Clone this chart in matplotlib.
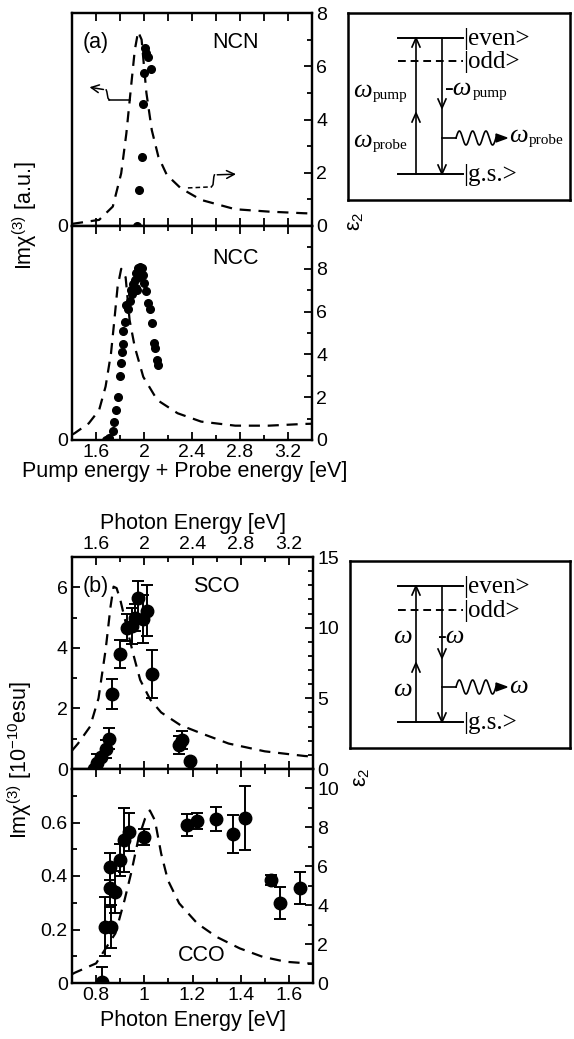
import numpy as np
import matplotlib
matplotlib.use('Agg')
import matplotlib.pyplot as plt
from matplotlib.ticker import MultipleLocator, FixedLocator, FuncFormatter, NullFormatter

plt.rcParams['font.family'] = ['Liberation Sans', 'DejaVu Sans']
plt.rcParams['mathtext.fontset'] = 'custom'
plt.rcParams['mathtext.rm'] = 'Liberation Sans'
plt.rcParams['mathtext.it'] = 'Liberation Sans:italic'
plt.rcParams['mathtext.bf'] = 'Liberation Sans:bold'

# ---------------- data ----------------
# (a) NCN : eps2 (dashed) and Im chi(3) points
ncn_e2_x = [1.40, 1.626, 1.74, 1.81, 1.853, 1.895, 1.923, 1.951, 1.98, 2.02, 2.065,
            2.12, 2.19, 2.306, 2.476, 2.76, 3.04, 3.33, 3.40]
ncn_e2_y = [0.08, 0.23, 0.73, 1.98, 3.48, 5.36, 6.6, 7.3, 7.0, 5.0, 3.6,
            2.6, 1.92, 1.42, 0.98, 0.63, 0.54, 0.48, 0.47]
ncn_x = [1.94, 1.957, 1.983, 1.99, 2.00, 2.06, 2.03, 2.01, 2.02]
ncn_y = [0.0, 1.35, 2.6, 4.6, 5.75, 5.9, 6.35, 6.7, 6.5]

# (a) NCC
ncc_e2_x = [1.40, 1.42, 1.54, 1.626, 1.68, 1.725, 1.753, 1.78, 1.81, 1.847, 1.88, 1.923,
            1.994, 2.11, 2.28, 2.476, 2.76, 3.04, 3.33, 3.40]
ncc_e2_y = [0.25, 0.31, 0.78, 1.4, 2.5, 4.05, 5.6, 7.16, 8.0, 7.6, 5.6, 4.35,
            2.95, 1.87, 1.25, 0.86, 0.67, 0.67, 0.75, 0.76]
ncc_x = [1.68, 1.71, 1.74, 1.753, 1.767, 1.78, 1.796, 1.81, 1.815, 1.824, 1.824, 1.84,
         1.853, 1.88, 1.895, 1.91, 1.923, 1.936, 1.95, 1.965, 1.98, 1.99, 2.0, 2.02,
         2.036, 2.05, 2.065, 2.08, 2.09, 2.11, 2.12, 1.90, 1.93, 1.96, 1.87, 1.94]
ncc_y = [0.0, 0.1, 0.4, 0.86, 1.4, 2.0, 3.0, 3.6, 4.1, 4.5, 5.1, 5.5,
         6.3, 6.5, 7.0, 7.3, 7.5, 7.8, 8.05, 8.1, 8.05, 7.7, 7.35, 6.98,
         6.4, 6.1, 5.47, 4.54, 4.3, 3.75, 3.5, 6.8, 7.1, 7.6, 6.1, 7.0]

# (b) SCO
sco_e2_x = [1.40, 1.45, 1.55, 1.62, 1.68, 1.72, 1.745, 1.77, 1.80, 1.85, 1.906, 1.966,
            2.05, 2.14, 2.30, 2.48, 2.70, 3.00, 3.33, 3.40]
sco_e2_y = [1.3, 1.8, 3.0, 5.0, 8.5, 11.5, 12.9, 12.8, 12.0, 10.2, 8.2, 6.3,
            4.9, 4.0, 3.1, 2.5, 1.8, 1.25, 0.92, 0.88]
sco_x = [1.58, 1.61, 1.64, 1.68, 1.71, 1.73, 1.80, 1.86, 1.895, 1.92, 1.95, 1.99, 2.02, 2.065,
         2.29, 2.31, 2.38]
sco_y = [0.0, 0.2, 0.4, 0.65, 1.0, 2.48, 3.8, 4.67, 4.72, 5.0, 5.65, 4.95, 5.23, 3.14,
         0.78, 0.95, 0.28]
sco_err = [0.0, 0.3, 0.0, 0.3, 0.35, 0.5, 0.45, 0.45, 0.6, 0.45, 0.55, 0.8, 0.85, 0.8,
           0.3, 0.3, 0.0]

# (b) CCO
cco_e2_x = [0.70, 0.712, 0.80, 0.88, 0.918, 0.945, 0.976, 1.003, 1.023, 1.044, 1.07, 1.098,
            1.145, 1.22, 1.30, 1.396, 1.49, 1.588, 1.676, 1.70]
cco_e2_y = [0.45, 0.53, 1.01, 2.55, 4.26, 5.63, 7.44, 8.45, 8.87, 8.36, 6.65, 5.28,
            4.09, 3.06, 2.37, 1.78, 1.35, 1.09, 1.01, 1.0]
cco_x = [0.823, 0.837, 0.86, 0.857, 0.878, 0.857, 0.898, 0.914, 0.935, 0.999,
         1.177, 1.22, 1.298, 1.37, 1.418, 1.524, 1.565, 1.645]
cco_y = [0.005, 0.21, 0.21, 0.355, 0.34, 0.435, 0.46, 0.535, 0.565, 0.545,
         0.59, 0.605, 0.614, 0.557, 0.616, 0.385, 0.30, 0.354]
cco_err = [0.055, 0.11, 0.08, 0.07, 0.08, 0.05, 0.06, 0.12, 0.07, 0.03,
           0.04, 0.03, 0.045, 0.07, 0.12, 0.02, 0.06, 0.06]

# --------------- figure ---------------
W, H = 574, 1039
fig = plt.figure(figsize=(W / 100, H / 100), dpi=100)


def rect(x0, y0, x1, y1):
    return [x0 / W, 1 - y1 / H, (x1 - x0) / W, (y1 - y0) / H]


LW = 1.6
TICK = 14
LAB = 15.5
fmt_g = FuncFormatter(lambda v, p: f"{v:g}")


def style(ax):
    for s in ax.spines.values():
        s.set_linewidth(LW)
    ax.tick_params(which='both', direction='in', width=1.3, labelsize=TICK, pad=3)
    ax.tick_params(which='major', length=6)
    ax.tick_params(which='minor', length=3.5)


dash = (0, (5, 3.5))

# ---- (a) top : NCN
axA1 = fig.add_axes(rect(72, 13, 312, 226))
axA1.set_xlim(1.4, 3.4)
axA1.set_ylim(0, 8)
axA1.xaxis.set_major_locator(MultipleLocator(0.2))
axA1.xaxis.set_major_formatter(NullFormatter())
axA1.set_yticks([0])
axA1.yaxis.set_major_formatter(fmt_g)
axA1.tick_params(top=True, bottom=True)
style(axA1)
axA1.plot(ncn_x, ncn_y, 'o', color='k', ms=5.5, zorder=5)
tA1 = axA1.twinx()
tA1.set_ylim(0, 8)
tA1.yaxis.set_major_locator(MultipleLocator(2))
tA1.yaxis.set_minor_locator(MultipleLocator(1))
tA1.yaxis.set_major_formatter(fmt_g)
style(tA1)
tA1.plot(ncn_e2_x, ncn_e2_y, color='k', lw=1.6, ls=dash)
axA1.text(0.1, 0.86, '(a)', transform=axA1.transAxes, fontsize=LAB, ha='center', va='center')
axA1.text(0.68, 0.86, 'NCN', transform=axA1.transAxes, fontsize=LAB, ha='center', va='center')
# wavy pointer arrows
tA1.plot([1.881, 1.711], [4.74, 4.74], color='k', lw=1.1)
tA1.plot([1.711, 1.700, 1.690, 1.685], [4.74, 4.80, 5.05, 5.11], color='k', lw=1.1)
tA1.annotate('', xy=(1.523, 5.23), xytext=(1.685, 5.11),
             arrowprops=dict(arrowstyle='->', color='k', lw=1.1, mutation_scale=14))
tA1.plot([2.366, 2.562], [1.43, 1.47], color='k', lw=1.1, ls=(0, (3, 2)))
tA1.plot([2.562, 2.575, 2.582, 2.587], [1.47, 1.55, 1.85, 1.92], color='k', lw=1.1)
tA1.annotate('', xy=(2.79, 1.95), xytext=(2.587, 1.92),
             arrowprops=dict(arrowstyle='->', color='k', lw=1.1, mutation_scale=14))

# ---- (a) bottom : NCC
axA2 = fig.add_axes(rect(72, 226, 312, 440))
axA2.set_xlim(1.4, 3.4)
axA2.set_ylim(0, 10)
axA2.xaxis.set_major_locator(MultipleLocator(0.4))
axA2.xaxis.set_minor_locator(MultipleLocator(0.2))
axA2.xaxis.set_major_formatter(fmt_g)
axA2.set_yticks([0])
axA2.yaxis.set_major_formatter(fmt_g)
axA2.tick_params(which='both', top=True, bottom=True)
style(axA2)
axA2.plot(ncc_x, ncc_y, 'o', color='k', ms=5.5, zorder=5)
tA2 = axA2.twinx()
tA2.set_ylim(0, 10)
tA2.set_yticks([0, 2, 4, 6, 8])
tA2.yaxis.set_minor_locator(MultipleLocator(1))
tA2.yaxis.set_major_formatter(fmt_g)
style(tA2)
tA2.plot(ncc_e2_x, ncc_e2_y, color='k', lw=1.6, ls=dash)
axA2.text(0.68, 0.85, 'NCC', transform=axA2.transAxes, fontsize=LAB, ha='center', va='center')

# ---- (b) top : SCO
axB1 = fig.add_axes(rect(72, 557, 313, 769))
axB1.set_xlim(1.4, 3.4)
axB1.set_ylim(0, 7)
axB1.xaxis.set_major_locator(MultipleLocator(0.4))
axB1.xaxis.set_minor_locator(MultipleLocator(0.2))
axB1.xaxis.set_major_formatter(fmt_g)
axB1.yaxis.set_major_locator(MultipleLocator(2))
axB1.yaxis.set_minor_locator(MultipleLocator(1))
axB1.yaxis.set_major_formatter(fmt_g)
axB1.tick_params(which='both', top=True, bottom=True, labeltop=True, labelbottom=False)
style(axB1)
axB1.errorbar(sco_x, sco_y, yerr=sco_err, fmt='o', color='k', ms=9, capsize=4,
              elinewidth=1.4, capthick=1.4, zorder=5)
tB1 = axB1.twinx()
tB1.set_ylim(0, 15)
tB1.yaxis.set_major_locator(MultipleLocator(5))
tB1.yaxis.set_minor_locator(MultipleLocator(1))
tB1.yaxis.set_major_formatter(fmt_g)
style(tB1)
tB1.plot(sco_e2_x, sco_e2_y, color='k', lw=1.6, ls=dash)
axB1.text(0.1, 0.86, '(b)', transform=axB1.transAxes, fontsize=LAB, ha='center', va='center')
axB1.text(0.6, 0.86, 'SCO', transform=axB1.transAxes, fontsize=LAB, ha='center', va='center')
axB1.set_xlabel('Photon Energy [eV]', fontsize=LAB, labelpad=5)
axB1.xaxis.set_label_position('top')

# ---- (b) bottom : CCO
axB2 = fig.add_axes(rect(72, 769, 313, 983))
axB2.set_xlim(0.7, 1.7)
axB2.set_ylim(0, 0.8)
axB2.xaxis.set_major_locator(MultipleLocator(0.2))
axB2.xaxis.set_minor_locator(MultipleLocator(0.1))
axB2.xaxis.set_major_formatter(fmt_g)
axB2.set_yticks([0, 0.2, 0.4, 0.6])
axB2.yaxis.set_minor_locator(MultipleLocator(0.1))
axB2.yaxis.set_major_formatter(fmt_g)
axB2.tick_params(which='both', top=True, bottom=True)
style(axB2)
axB2.errorbar(cco_x, cco_y, yerr=cco_err, fmt='o', color='k', ms=9, capsize=4,
              elinewidth=1.4, capthick=1.4, zorder=5)
tB2 = axB2.twinx()
tB2.set_ylim(0, 11)
tB2.set_yticks([0, 2, 4, 6, 8, 10])
tB2.yaxis.set_minor_locator(MultipleLocator(1))
tB2.yaxis.set_major_formatter(fmt_g)
style(tB2)
tB2.plot(cco_e2_x, cco_e2_y, color='k', lw=1.6, ls=dash)
axB2.text(0.54, 0.13, 'CCO', transform=axB2.transAxes, fontsize=LAB, ha='center', va='center')
axB2.set_xlabel('Photon Energy [eV]', fontsize=LAB, labelpad=4)

# ---- shared texts
fig.text(185 / W, 1 - 471 / H, 'Pump energy + Probe energy [eV]', fontsize=LAB,
         ha='center', va='center')
fig.text(25 / W, 1 - 216 / H, 'Imχ$^{(3)}$ [a.u.]', fontsize=LAB, rotation=90,
         ha='center', va='center')
fig.text(20 / W, 1 - 760 / H, 'Imχ$^{(3)}$ [10$^{-10}$esu]', fontsize=LAB, rotation=90,
         ha='center', va='center')
fig.text(355 / W, 1 - 221 / H, 'ε$_2$', fontsize=LAB, rotation=90,
         ha='center', va='center')
fig.text(362 / W, 1 - 777 / H, 'ε$_2$', fontsize=LAB, rotation=90,
         ha='center', va='center')

# ---- level-scheme insets (local pixel coordinates)
SERIF = ['Liberation Serif', 'DejaVu Serif']


def chevron(ax, x, y, up=True):
    d = 9 if up else -9
    ax.plot([x - 4, x, x + 4], [y + d, y, y + d], color='k', lw=1.2)


def omega(ax, tx, ty, sub, prefix=''):
    t = ax.text(tx, ty, prefix + '\u03c9', family=SERIF, fontsize=19, style='italic',
                va='center', ha='left')
    if sub:
        ax.annotate(sub, xy=(1, 0.3), xycoords=t, xytext=(1, 0), textcoords='offset points',
                    family=SERIF, fontsize=11, va='center', ha='left')


def inset(box, y_even, y_odd, y_gs, y_up_mid, y_dn_mid, y_wave, left_labels, right_label,
          wave_label):
    x0, y0, x1, y1 = box
    ax = fig.add_axes(rect(x0, y0, x1, y1))
    ax.set_xlim(x0, x1)
    ax.set_ylim(y1, y0)
    ax.set_xticks([])
    ax.set_yticks([])
    for s in ax.spines.values():
        s.set_linewidth(1.8)
    xl, xr = 398, 463
    xu, xd = 416, 442
    ax.plot([xl, xr], [y_even, y_even], color='k', lw=1.4)
    ax.plot([xl, xr], [y_odd, y_odd], color='k', lw=1.4, ls=(0, (4, 2.5)))
    ax.plot([xl, xr], [y_gs, y_gs], color='k', lw=1.4)
    ax.plot([xu, xu], [y_gs, y_even], color='k', lw=1.2)
    ax.plot([xd, xd], [y_even, y_gs], color='k', lw=1.2)
    chevron(ax, xu, y_even, True)
    chevron(ax, xu, y_up_mid, True)
    chevron(ax, xd, y_dn_mid, False)
    chevron(ax, xd, y_gs, False)
    # emitted photon
    xs = np.linspace(456, 496, 200)
    ax.plot([xd, 456], [y_wave, y_wave], color='k', lw=1.2)
    ax.plot(xs, y_wave - 7 * np.sin(2 * np.pi * (xs - 456) / 13.3), color='k', lw=1.2)
    ax.fill([496, 507, 496], [y_wave - 4, y_wave, y_wave + 4], color='k')
    kw = dict(family=SERIF, fontsize=18, va='center', ha='left')
    ax.text(xr, y_even + 1, '|even>', **kw)
    ax.text(xr, y_odd + 1, '|odd>', **kw)
    ax.text(xr, y_gs + 1, '|g.s.>', **kw)
    for (tx, ty, sub) in left_labels:
        omega(ax, tx, ty, sub)
    tx, ty, sub = right_label
    omega(ax, tx, ty, sub, prefix='-')
    tx, ty, sub = wave_label
    omega(ax, tx, ty, sub)


inset((348, 13, 570, 200), 38, 61, 174, 113, 108, 138,
      [(353, 91, 'pump'), (353, 141, 'probe')], (444, 89, 'pump'), (509, 136, 'probe'))
inset((350, 561, 570, 748), 586, 610, 722, 663, 658, 687,
      [(393, 637, ''), (393, 690, '')], (437, 637, ''), (509, 687, ''))

fig.savefig('out.png', dpi=100)
